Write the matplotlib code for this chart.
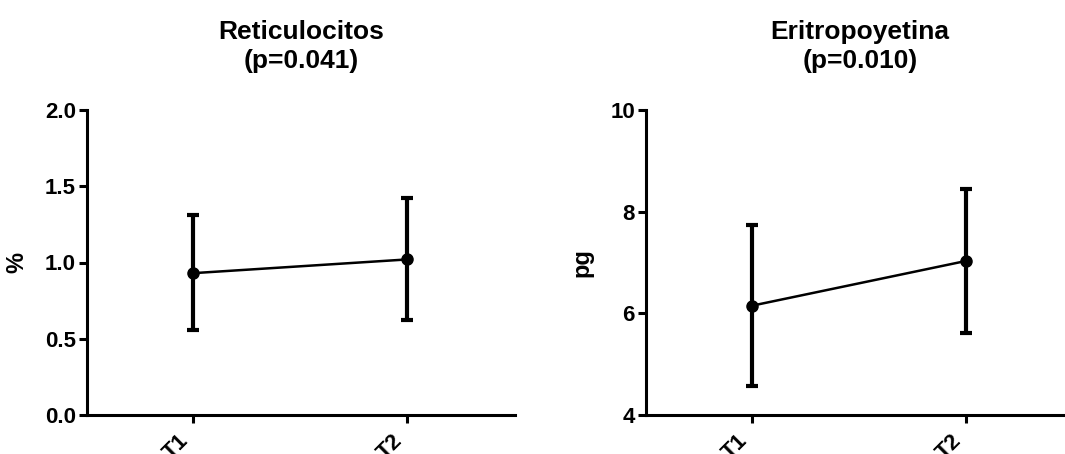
import matplotlib
matplotlib.use("Agg")
import matplotlib.pyplot as plt

plt.rcParams['font.family'] = ['Liberation Sans', 'DejaVu Sans']
plt.rcParams['font.weight'] = 'bold'

# mean and error limits at each time point
times = ['T1', 'T2']

reti_mean = [0.93, 1.02]
reti_low = [0.56, 0.62]
reti_high = [1.31, 1.42]

epo_mean = [6.15, 7.03]
epo_low = [4.57, 5.61]
epo_high = [7.74, 8.45]

panels = [
    ('Reticulocitos\n(p=0.041)', '%', reti_mean, reti_low, reti_high,
     (0, 2.0), [0.0, 0.5, 1.0, 1.5, 2.0], ['0.0', '0.5', '1.0', '1.5', '2.0']),
    ('Eritropoyetina\n(p=0.010)', 'pg', epo_mean, epo_low, epo_high,
     (4, 10), [4, 6, 8, 10], ['4', '6', '8', '10']),
]

fig = plt.figure(figsize=(10.65, 4.54), dpi=100)
W, H = 1065, 454
# axes boxes in pixels: left, bottom(y from top), right, top
boxes = [(87, 415, 515, 110), (646, 415, 1074, 110)]

for (title, ylab, mean, low, high, ylim, yt, ytl), (l, b, r, t) in zip(panels, boxes):
    ax = fig.add_axes([l / W, 1 - b / H, (r - l) / W, (b - t) / H])
    x = [0, 1]
    yerr = [[m - lo for m, lo in zip(mean, low)], [hi - m for m, hi in zip(mean, high)]]
    ax.errorbar(x, mean, yerr=yerr, color='black', lw=1.8, marker='o', ms=8,
                elinewidth=3, capsize=4.5, capthick=3, clip_on=False)
    ax.set_xlim(-0.495, 1.505)
    ax.set_ylim(*ylim)
    ax.set_yticks(yt)
    ax.set_yticklabels(ytl, fontsize=16, fontweight='bold')
    ax.set_xticks(x)
    ax.set_xticklabels(times, fontsize=16, fontweight='bold', rotation=45,
                       ha='right', va='top')
    for s in ['top', 'right']:
        ax.spines[s].set_visible(False)
    for s in ['left', 'bottom']:
        ax.spines[s].set_linewidth(2.2)
    ax.tick_params(width=2.2, length=6, pad=2)
    ax.tick_params(axis='x', pad=5)
    ax.set_ylabel(ylab, fontsize=17, fontweight='bold', labelpad=12)
    ax.set_title(title, fontsize=19, fontweight='bold', pad=30, linespacing=1.3)

fig.savefig('out.png', dpi=100)
